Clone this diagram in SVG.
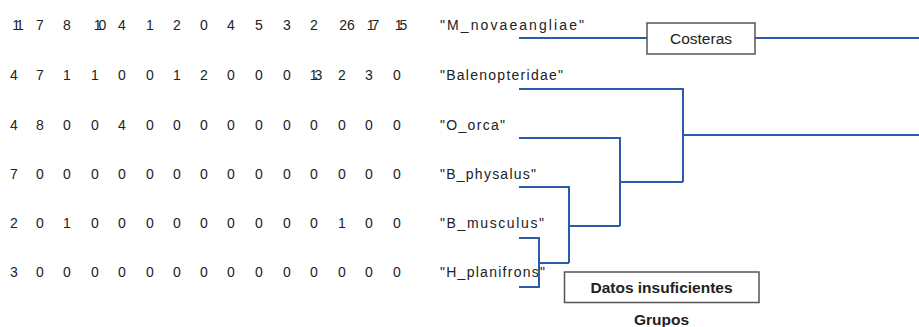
<svg xmlns="http://www.w3.org/2000/svg" width="919" height="327" viewBox="0 0 919 327">
<style>
.n{font-family:"Liberation Sans",Arial,sans-serif;font-size:14px;fill:#222;text-anchor:middle}
.t{letter-spacing:-3px}
.lb{font-family:"Liberation Sans",Arial,sans-serif;font-size:14px;fill:#222}
.ln{fill:none;stroke:#2b5cab;stroke-width:2}
.box{fill:#fff;stroke:#555;stroke-width:1.5}
.bt{font-family:"Liberation Sans",Arial,sans-serif;font-size:15.5px;fill:#222;text-anchor:middle}
.bb{font-family:"Liberation Sans",Arial,sans-serif;font-size:15.5px;font-weight:bold;fill:#222;text-anchor:middle}
</style>
<rect width="919" height="327" fill="#fff"/>
<g id="matrix">
<g id="row1">
<text class="n t" x="16.5" y="30">11</text><text class="n" x="40" y="30">7</text><text class="n" x="67" y="30">8</text><text class="n t" x="98.5" y="30">10</text><text class="n" x="122" y="30">4</text><text class="n" x="150" y="30">1</text><text class="n" x="177" y="30">2</text><text class="n" x="204" y="30">0</text><text class="n" x="231" y="30">4</text><text class="n" x="259" y="30">5</text><text class="n" x="287" y="30">3</text><text class="n" x="314" y="30">2</text><text class="n" x="347" y="30">26</text><text class="n t" x="371.5" y="30">17</text><text class="n t" x="399.5" y="30">15</text>
</g>
<g id="row2">
<text class="n" x="14" y="80">4</text><text class="n" x="40" y="80">7</text><text class="n" x="67" y="80">1</text><text class="n" x="95" y="80">1</text><text class="n" x="122" y="80">0</text><text class="n" x="150" y="80">0</text><text class="n" x="177" y="80">1</text><text class="n" x="204" y="80">2</text><text class="n" x="231" y="80">0</text><text class="n" x="259" y="80">0</text><text class="n" x="287" y="80">0</text><text class="n t" x="314.5" y="80">13</text><text class="n" x="342" y="80">2</text><text class="n" x="369" y="80">3</text><text class="n" x="397" y="80">0</text>
</g>
<g id="row3">
<text class="n" x="14" y="130">4</text><text class="n" x="40" y="130">8</text><text class="n" x="67" y="130">0</text><text class="n" x="95" y="130">0</text><text class="n" x="122" y="130">4</text><text class="n" x="150" y="130">0</text><text class="n" x="177" y="130">0</text><text class="n" x="204" y="130">0</text><text class="n" x="231" y="130">0</text><text class="n" x="259" y="130">0</text><text class="n" x="287" y="130">0</text><text class="n" x="314" y="130">0</text><text class="n" x="342" y="130">0</text><text class="n" x="369" y="130">0</text><text class="n" x="397" y="130">0</text>
</g>
<g id="row4">
<text class="n" x="14" y="179">7</text><text class="n" x="40" y="179">0</text><text class="n" x="67" y="179">0</text><text class="n" x="95" y="179">0</text><text class="n" x="122" y="179">0</text><text class="n" x="150" y="179">0</text><text class="n" x="177" y="179">0</text><text class="n" x="204" y="179">0</text><text class="n" x="231" y="179">0</text><text class="n" x="259" y="179">0</text><text class="n" x="287" y="179">0</text><text class="n" x="314" y="179">0</text><text class="n" x="342" y="179">0</text><text class="n" x="369" y="179">0</text><text class="n" x="397" y="179">0</text>
</g>
<g id="row5">
<text class="n" x="14" y="228">2</text><text class="n" x="40" y="228">0</text><text class="n" x="67" y="228">1</text><text class="n" x="95" y="228">0</text><text class="n" x="122" y="228">0</text><text class="n" x="150" y="228">0</text><text class="n" x="177" y="228">0</text><text class="n" x="204" y="228">0</text><text class="n" x="231" y="228">0</text><text class="n" x="259" y="228">0</text><text class="n" x="287" y="228">0</text><text class="n" x="314" y="228">0</text><text class="n" x="342" y="228">1</text><text class="n" x="369" y="228">0</text><text class="n" x="397" y="228">0</text>
</g>
<g id="row6">
<text class="n" x="14" y="277">3</text><text class="n" x="40" y="277">0</text><text class="n" x="67" y="277">0</text><text class="n" x="95" y="277">0</text><text class="n" x="122" y="277">0</text><text class="n" x="150" y="277">0</text><text class="n" x="177" y="277">0</text><text class="n" x="204" y="277">0</text><text class="n" x="231" y="277">0</text><text class="n" x="259" y="277">0</text><text class="n" x="287" y="277">0</text><text class="n" x="314" y="277">0</text><text class="n" x="342" y="277">0</text><text class="n" x="369" y="277">0</text><text class="n" x="397" y="277">0</text>
</g>
</g>
<g id="labels">
<text id="lab-mnov" class="lb" x="440" y="30" textLength="144">"M_novaeangliae"</text>
<text id="lab-bal" class="lb" x="440" y="80" textLength="123">"Balenopteridae"</text>
<text id="lab-orca" class="lb" x="440" y="130" textLength="65">"O_orca"</text>
<text id="lab-bphy" class="lb" x="440" y="179" textLength="96">"B_physalus"</text>
<text id="lab-bmus" class="lb" x="440" y="228" textLength="104">"B_musculus"</text>
<text id="lab-hpla" class="lb" x="440" y="277" textLength="105">"H_planifrons"</text>
</g>
<g id="connectors">
<path class="ln" d="M519,38 H647 M755,38 H919"/>
<path class="ln" d="M519,89 H683 V182 M683,135 H919"/>
<path class="ln" d="M519,138 H620 V226 M620,182 H683"/>
<path class="ln" d="M519,187 H569 V263 M569,226 H620"/>
<path class="ln" d="M519,238 H539 V287 H519 M539,263 H569"/>
</g>
<g id="costeras">
<rect class="box" x="647" y="23" width="108" height="31"/>
<text class="bt" x="701" y="44">Costeras</text>
</g>
<g id="datos">
<rect class="box" x="564.5" y="272" width="194.5" height="30.5"/>
<text class="bb" x="661.5" y="293">Datos insuficientes</text>
</g>
<g id="grupos">
<text class="bb" x="661.5" y="325">Grupos</text>
</g>
</svg>
